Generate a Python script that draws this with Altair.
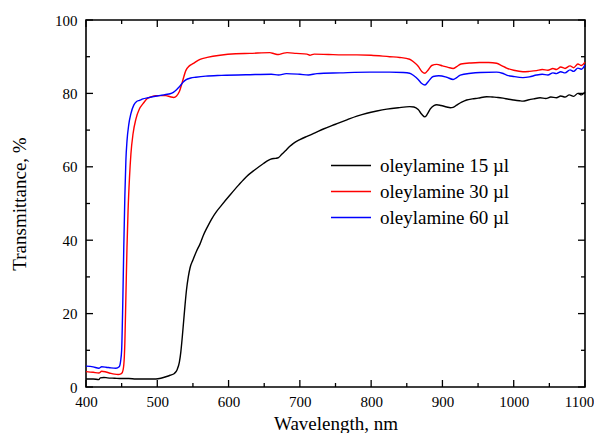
import altair as alt
import pandas as pd

# ---------------- data ----------------
series_names = ["oleylamine 15 µl", "oleylamine 30 µl", "oleylamine 60 µl"]
series_colors = ["#000000", "#ff0000", "#0000ff"]

wl_15 = [400, 410, 418, 420, 425, 430, 440, 450, 460, 470, 480, 490, 498, 505, 512, 518, 524, 528,
         531, 533, 535, 537, 539, 541, 543.5, 546, 550, 555, 560, 565, 570, 576, 583, 590, 602, 614,
         625, 637, 649, 655, 661, 666, 670, 675, 681, 686, 691, 700, 710, 722, 733, 750, 766, 780,
         794, 808, 822, 838, 854, 860, 866, 871, 875.5, 879, 883, 888, 892, 898, 906, 911, 915, 920,
         927, 934, 942, 950, 962, 970, 978, 985, 993, 1000, 1008, 1013, 1020, 1028, 1037, 1045, 1052,
         1060, 1066, 1072, 1078, 1084, 1090, 1095, 1100]
t_15 = [2.2, 2.2, 2.0, 2.5, 2.6, 2.5, 2.4, 2.3, 2.3, 2.2, 2.2, 2.2, 2.2, 2.4, 2.8, 3.2, 3.7, 4.8,
        6.8, 9.5, 13.5, 18.0, 22.5, 26.5, 30.0, 32.5, 34.6, 37.0, 39.0, 41.5, 43.5, 45.7, 47.8, 49.5, 52.3, 55.0,
        57.3, 59.2, 60.9, 61.7, 62.2, 62.3, 62.5, 63.5, 64.6, 65.6, 66.4, 67.4, 68.3, 69.3, 70.3, 71.6, 72.8, 73.8,
        74.6, 75.2, 75.7, 76.1, 76.4, 76.3, 75.6, 74.3, 73.6, 74.4, 75.8, 76.7, 76.9, 76.7, 76.3, 76.1, 76.2, 76.8,
        77.6, 78.2, 78.5, 78.7, 79.1, 79.0, 78.9, 78.7, 78.4, 78.2, 78.0, 77.9, 78.2, 78.5, 78.8, 78.6, 79.0,
        78.8, 79.3, 79.0, 79.6, 79.2, 80.0, 79.6, 80.4]

wl_30 = [400, 410, 418, 422, 428, 435, 440, 445, 449, 451, 453, 454.5, 456, 457.5, 459, 461, 463, 466,
         470, 475, 480, 486, 492, 498, 505, 512, 518, 523, 527, 531, 535, 540, 545, 550, 560, 570, 588,
         610, 630, 658, 664, 670, 676, 682, 695, 710, 714, 720, 740, 760, 780, 800, 826, 840, 854, 860,
         866, 871, 875.5, 880, 885, 892, 900, 908, 915, 920, 926, 940, 952, 965, 976, 983, 990, 1000,
         1013, 1022, 1032, 1040, 1048, 1055, 1060, 1066, 1072, 1079, 1084, 1090, 1095, 1100]
t_30 = [4.2, 4.0, 3.8, 4.3, 4.1, 3.7, 3.5, 3.4, 3.6, 4.0, 6.0, 12.0, 25.0, 38.0, 48.0, 57.0, 63.5, 69.0,
        73.0, 75.8, 77.2, 78.6, 79.1, 79.4, 79.4, 79.4, 79.1, 78.9, 79.3, 80.5, 83.0, 86.2, 87.5, 88.1, 89.3, 89.8, 90.4,
        90.8, 90.9, 91.1, 90.8, 90.6, 90.9, 91.1, 90.9, 90.7, 90.4, 90.7, 90.6, 90.5, 90.5, 90.4, 90.0, 89.8, 89.3, 88.5,
        87.4, 86.0, 85.5, 86.4, 87.6, 87.9, 87.5, 87.1, 86.8, 87.3, 88.0, 88.3, 88.4, 88.4, 88.2, 87.6, 86.9, 86.3,
        85.9, 86.0, 86.2, 86.5, 86.3, 86.8, 86.5, 87.2, 86.8, 87.5, 87.0, 88.0, 87.6, 88.5]

wl_60 = [400, 410, 418, 422, 428, 435, 442, 446.5, 448.5, 450, 451.5, 453, 454.5, 456, 457.5, 460, 463,
         467, 471, 475, 480, 487, 493.5, 500, 506, 512, 518, 522.5, 527, 531, 536, 540, 547, 554, 568, 590,
         630, 660, 670, 681, 700, 712, 724, 756, 798, 826, 845, 854, 860, 866, 871, 875.5, 880, 887, 895,
         906, 915, 920, 925, 940, 953, 976, 984, 990, 1000, 1013, 1022, 1032, 1040, 1048, 1055, 1060,
         1066, 1072, 1079, 1084, 1090, 1095, 1100]
t_60 = [5.7, 5.5, 5.1, 5.5, 5.4, 5.2, 5.1, 5.5, 7.0, 10.0, 22.0, 38.0, 52.0, 62.0, 67.0, 71.5, 74.5,
        76.8, 77.8, 78.1, 78.5, 78.8, 79.1, 79.3, 79.5, 79.7, 79.9, 80.3, 81.0, 81.8, 83.0, 83.7, 84.2, 84.4, 84.7, 84.9,
        85.1, 85.2, 85.0, 85.4, 85.2, 85.0, 85.4, 85.6, 85.8, 85.8, 85.7, 85.5, 84.8, 83.8, 82.7, 82.3, 83.2, 84.6, 84.8,
        84.4, 83.8, 84.3, 85.0, 85.5, 85.7, 85.8, 85.5, 85.0, 84.6, 84.3, 84.5, 85.0, 85.2, 85.0, 85.6, 85.4,
        85.9, 85.6, 86.4, 86.0, 86.9, 86.6, 87.7]

x_major = [400, 500, 600, 700, 800, 900, 1000, 1100]
x_minor = [450, 550, 650, 750, 850, 950, 1050]
y_major = [0, 20, 40, 60, 80, 100]
y_minor = [10, 30, 50, 70, 90]

# ---------------- build table ----------------
frames = []
for name, wl, t in zip(series_names, [wl_15, wl_30, wl_60], [t_15, t_30, t_60]):
    frames.append(pd.DataFrame({"wl": wl, "t": t, "series": name}))
df = pd.concat(frames, ignore_index=True)

W, H = 499, 367
FONT = "Liberation Serif"

xscale = alt.Scale(domain=[400, 1100], nice=False, zero=False)
yscale = alt.Scale(domain=[0, 100], nice=False)

lines = alt.Chart(df).mark_line(strokeWidth=1.4, interpolate="monotone").encode(
    x=alt.X("wl:Q", scale=xscale,
            axis=alt.Axis(values=x_major, title="Wavelength, nm", format="d",
                          labelPadding=7, labelFlush=False,
                          labelOffset={"expr": "datum.value >= 1100 ? -6 : 0"},
                          titleX=W / 2, titleY=42, titleBaseline="alphabetic")),
    y=alt.Y("t:Q", scale=yscale,
            axis=alt.Axis(values=y_major, title="Transmittance, %", labelPadding=9,
                          titleX=-61, titleY=H / 2, titleBaseline="alphabetic")),
    color=alt.Color("series:N",
                    scale=alt.Scale(domain=series_names, range=series_colors),
                    legend=alt.Legend(orient="none", legendX=244, legendY=134.5, title=None,
                                      symbolType="stroke", symbolSize=1600,
                                      symbolStrokeWidth=1.5, labelFont=FONT,
                                      labelFontSize=19, labelColor="black",
                                      labelOffset=8, clipHeight=22, rowPadding=4,
                                      padding=0)),
    detail="series:N",
)


def xticks(vals, length):
    d = pd.DataFrame({"v": vals})
    bottom = alt.Chart(d).mark_rule(color="black", strokeWidth=1.3).encode(
        x=alt.X("v:Q", scale=xscale), y=alt.value(H), y2=alt.value(H - length))
    top = alt.Chart(d).mark_rule(color="black", strokeWidth=1.3).encode(
        x=alt.X("v:Q", scale=xscale), y=alt.value(0), y2=alt.value(length))
    return [bottom, top]


def yticks(vals, length):
    d = pd.DataFrame({"v": vals})
    left = alt.Chart(d).mark_rule(color="black", strokeWidth=1.3).encode(
        y=alt.Y("v:Q", scale=yscale), x=alt.value(0), x2=alt.value(length))
    right = alt.Chart(d).mark_rule(color="black", strokeWidth=1.3).encode(
        y=alt.Y("v:Q", scale=yscale), x=alt.value(W), x2=alt.value(W - length))
    return [left, right]


tick_layers = xticks(x_major, 7) + xticks(x_minor, 4) + yticks(y_major, 7) + yticks(y_minor, 4)

chart = alt.layer(lines, *tick_layers).properties(
    width=W, height=H,
    background="white",
    autosize=alt.AutoSizeParams(type="none"),
    padding={"left": 78, "top": 12, "right": 9, "bottom": 46},
).configure_view(
    stroke="black", strokeWidth=1.6
).configure_axis(
    grid=False, domain=False, ticks=False,
    labelFont=FONT, labelFontSize=15, labelColor="black",
    titleFont=FONT, titleFontSize=19, titleFontWeight="normal", titleColor="black",
)

chart.save("out.html", embed_options={"renderer": "svg", "actions": False})
